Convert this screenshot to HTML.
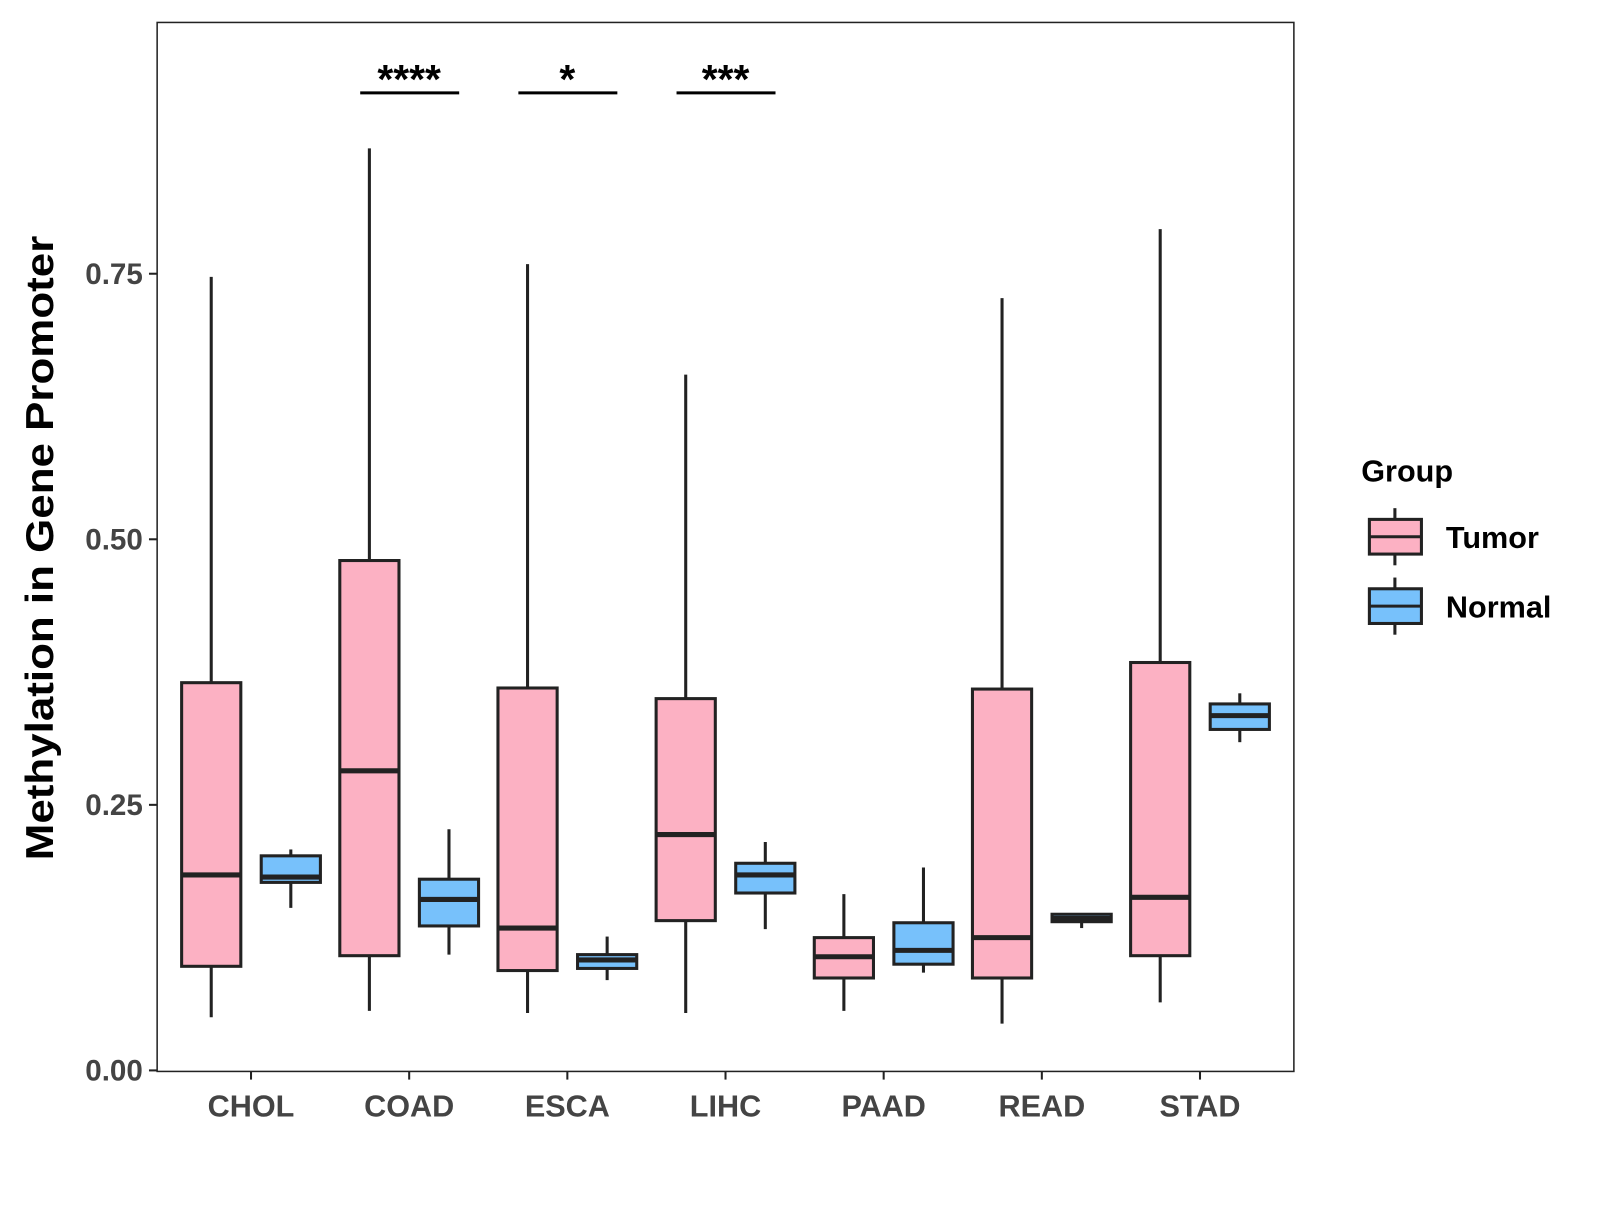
<!DOCTYPE html>
<html><head><meta charset="utf-8"><style>
html,body{margin:0;padding:0;background:#fff;}
svg text{font-family:"Liberation Sans",Arial,sans-serif;font-weight:bold;}
</style></head><body>
<svg id="chart" width="1600" height="1200" viewBox="0 0 1568 1176" xmlns="http://www.w3.org/2000/svg">
<rect x="0" y="0" width="1568" height="1176" fill="#fff"/>
<rect x="154" y="22" width="1114" height="1028" fill="none" stroke="#222" stroke-width="1.5"/>
<g id="marks"></g>
<g id="axes"></g>
<text transform="translate(52,537) rotate(-90)" text-anchor="middle" font-size="38" textLength="612" lengthAdjust="spacingAndGlyphs" fill="#000">Methylation in Gene Promoter</text>
<g>
<text x="1334" y="472" font-size="30" fill="#000">Group</text>
<g>
<line x1="1367" y1="498" x2="1367" y2="554" stroke="#222" stroke-width="3"/>
<rect x="1342" y="509" width="51" height="34" fill="#FCB1C3" stroke="#222" stroke-width="3"/>
<line x1="1342" y1="526" x2="1393" y2="526" stroke="#222" stroke-width="3"/>
<text x="1417" y="537" font-size="30" fill="#000">Tumor</text></g>
<g>
<line x1="1367" y1="566" x2="1367" y2="622" stroke="#222" stroke-width="3"/>
<rect x="1342" y="577" width="51" height="34" fill="#77C1FB" stroke="#222" stroke-width="3"/>
<line x1="1342" y1="594" x2="1393" y2="594" stroke="#222" stroke-width="3"/>
<text x="1417" y="605" font-size="30" fill="#000">Normal</text></g>
</g>
</svg>
<script>
const categories=["CHOL","COAD","ESCA","LIHC","PAAD","READ","STAD"];
const tumorMin=[0.050,0.056,0.054,0.054,0.056,0.044,0.064];
const tumorQ1=[0.098,0.108,0.094,0.141,0.087,0.087,0.108];
const tumorMed=[0.184,0.282,0.134,0.222,0.107,0.125,0.163];
const tumorQ3=[0.365,0.480,0.360,0.350,0.125,0.359,0.384];
const tumorMax=[0.747,0.868,0.759,0.655,0.166,0.727,0.792];
const normalMin=[0.153,0.109,0.085,0.133,0.092,0.134,0.309];
const normalQ1=[0.177,0.136,0.096,0.167,0.100,0.140,0.321];
const normalMed=[0.182,0.161,0.104,0.184,0.113,0.143,0.334];
const normalQ3=[0.202,0.180,0.109,0.195,0.139,0.147,0.345];
const normalMax=[0.208,0.227,0.126,0.215,0.191,0.147,0.355];
const yTicks=[0,0.25,0.5,0.75];
const yTickLabels=["0.00","0.25","0.50","0.75"];
const sigCats=["COAD","ESCA","LIHC"];
const sigLabels=["****","*","***"];

const NS="http://www.w3.org/2000/svg";
function y(v){return 1049-v*1041;}
function xc(i){return 246+i*155;}
function mk(tag,attrs,parent){const e=document.createElementNS(NS,tag);for(const k in attrs)e.setAttribute(k,attrs[k]);parent.appendChild(e);return e;}
const marks=document.getElementById('marks');
const axes=document.getElementById('axes');
function box(cx,mn,q1,md,q3,mx,fill,name){
  const g=mk('g',{},marks);
  
  
  mk('line',{x1:cx,x2:cx,y1:y(mx),y2:y(mn),stroke:'#222','stroke-width':3},g);
  mk('rect',{x:cx-29,y:y(q3),width:58,height:Math.max(y(q1)-y(q3),1),fill:fill,stroke:'#222','stroke-width':3},g);
  mk('line',{x1:cx-29,x2:cx+29,y1:y(md),y2:y(md),stroke:'#222','stroke-width':5},g);
}
categories.forEach((c,i)=>{
  box(xc(i)-39,tumorMin[i],tumorQ1[i],tumorMed[i],tumorQ3[i],tumorMax[i],'#FCB1C3','box-tumor-'+c.toLowerCase());
  box(xc(i)+39,normalMin[i],normalQ1[i],normalMed[i],normalQ3[i],normalMax[i],'#77C1FB','box-normal-'+c.toLowerCase());
  mk('line',{x1:xc(i),x2:xc(i),y1:1050,y2:1058,stroke:'#222','stroke-width':2},axes);
  const t=mk('text',{x:xc(i),y:1094,'text-anchor':'middle','font-size':30,fill:'#444'},axes);
  t.textContent=c;
  
  
});
yTicks.forEach((v,i)=>{
  mk('line',{x1:146,x2:154,y1:y(v),y2:y(v),stroke:'#222','stroke-width':2},axes);
  const t=mk('text',{x:140,y:y(v)+10,'text-anchor':'end','font-size':29,fill:'#444'},axes);
  t.textContent=yTickLabels[i];
  
  
});
sigCats.forEach((c,k)=>{
  const i=categories.indexOf(c);
  const g=mk('g',{},marks);
  
  
  mk('line',{x1:xc(i)-48,x2:xc(i)+49,y1:91,y2:91,stroke:'#000','stroke-width':3},g);
  const t=mk('text',{x:xc(i),y:91,'text-anchor':'middle','font-size':40,fill:'#000'},g);
  t.textContent=sigLabels[k];
});
</script>
</body></html>
